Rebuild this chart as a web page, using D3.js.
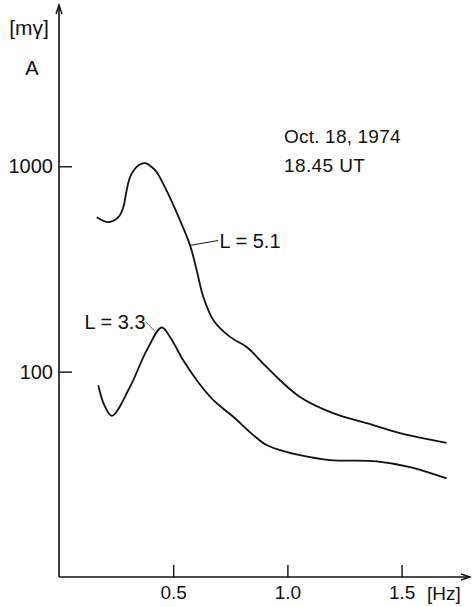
<!DOCTYPE html>
<html>
<head>
<meta charset="utf-8">
<script src="https://cdn.jsdelivr.net/npm/d3@7"></script>
<style>
  html, body { margin: 0; padding: 0; background: #fff; }
  svg { display: block; }
  text { font-family: "Liberation Sans", Arial, sans-serif; fill: #111; }
</style>
</head>
<body>
<svg id="chart" width="472" height="607"></svg>
<script>
// ---- data ----
const freqL51 = [0.165, 0.216, 0.260, 0.2815, 0.296, 0.311, 0.330, 0.347, 0.377, 0.406, 0.428, 0.477, 0.530, 0.574, 0.603, 0.632, 0.676, 0.749, 0.822, 0.894, 0.968, 1.055, 1.200, 1.347, 1.493, 1.697];
const ampL51  = [565, 535, 565, 632, 762, 885, 965, 1009, 1035, 991, 935, 738, 545, 412, 311, 231, 178, 147.6, 131.8, 109.5, 90.8, 75.3, 62.8, 56.1, 50.2, 45.0];

const freqL33 = [0.172, 0.197, 0.231, 0.311, 0.384, 0.450, 0.486, 0.544, 0.603, 0.676, 0.763, 0.851, 0.909, 0.968, 1.055, 1.187, 1.391, 1.537, 1.697];
const ampL33  = [85.9, 69.3, 60.9, 84.4, 127, 164, 147.6, 113.5, 90.8, 72.6, 60.3, 49.1, 43.9, 41.5, 39.2, 37.1, 36.6, 34.3, 30.2];

const xTickValues = [0.5, 1.0, 1.5];
const xTickLabels = ["0.5", "1.0", "1.5"];
const yTickValues = [100, 1000];
const yTickLabels = ["100", "1000"];

const seriesLabels = ["L = 5.1", "L = 3.3"];
const titleLines = ["Oct. 18, 1974", "18.45 UT"];
const yUnit = "[mγ]";
const yName = "A";
const xUnit = "[Hz]";

// ---- chart ----
const svg = d3.select("#chart");
const x = d3.scaleLinear().domain([0, 1.8]).range([59, 470.1]);
const y = d3.scaleLog().domain([10, 6100]).range([577, 5]);

const ink = "#111";
const FONT = "Liberation Sans, Arial, sans-serif";

// y axis
const yAxis = d3.axisLeft(y)
  .tickValues(yTickValues)
  .tickFormat((d, i) => yTickLabels[i])
  .tickSize(-13)
  .tickPadding(6);
const gy = svg.append("g").attr("transform", `translate(${x(0)},0)`).call(yAxis);
gy.select(".domain").remove();
gy.selectAll(".tick line").attr("stroke", ink).attr("stroke-width", 1.4);
gy.selectAll(".tick text").attr("font-size", 20).attr("font-family", FONT).attr("fill", ink);

// x axis
const xAxis = d3.axisBottom(x)
  .tickValues(xTickValues)
  .tickFormat((d, i) => xTickLabels[i])
  .tickSize(-12)
  .tickPadding(9);
const gx = svg.append("g").attr("transform", `translate(0,${y(10)})`).call(xAxis);
gx.select(".domain").remove();
gx.selectAll(".tick line").attr("stroke", ink).attr("stroke-width", 1.4);
gx.selectAll(".tick text").attr("font-size", 19).attr("font-family", FONT).attr("fill", ink);

// axis lines with arrows
const x0 = x(0), y0 = y(10), yTop = y.range()[1], xEnd = x.range()[1];
svg.append("line").attr("x1", x0).attr("y1", y0).attr("x2", x0).attr("y2", yTop)
  .attr("stroke", ink).attr("stroke-width", 1.6);
svg.append("line").attr("x1", x0).attr("y1", y0).attr("x2", xEnd).attr("y2", y0)
  .attr("stroke", ink).attr("stroke-width", 1.6);
svg.append("path").attr("d", `M${x0-3},${yTop+9} L${x0},${yTop} L${x0+3},${yTop+9}`)
  .attr("fill", "none").attr("stroke", ink).attr("stroke-width", 1.4);
svg.append("path").attr("d", `M${xEnd-9},${y0-3} L${xEnd},${y0} L${xEnd-9},${y0+3}`)
  .attr("fill", "none").attr("stroke", ink).attr("stroke-width", 1.4);

// axis labels
svg.append("text").attr("x", 29).attr("y", 35).attr("text-anchor", "middle")
  .attr("font-size", 21).text(yUnit);
svg.append("text").attr("x", 32).attr("y", 75).attr("text-anchor", "middle")
  .attr("font-size", 20).text(yName);
svg.append("text").attr("x", 427).attr("y", 600).attr("font-size", 19).text(xUnit);

// curves
const line = d3.line()
  .x(d => x(d[0]))
  .y(d => y(d[1]))
  .curve(d3.curveCatmullRom.alpha(0.5));

svg.append("path").datum(d3.zip(freqL51, ampL51))
  .attr("d", line).attr("fill", "none").attr("stroke", ink).attr("stroke-width", 1.8);
svg.append("path").datum(d3.zip(freqL33, ampL33))
  .attr("d", line).attr("fill", "none").attr("stroke", ink).attr("stroke-width", 1.8);

// series labels with leader lines
svg.append("line")
  .attr("x1", x(0.574)).attr("y1", y(412))
  .attr("x2", x(0.697)).attr("y2", y(435))
  .attr("stroke", ink).attr("stroke-width", 1);
svg.append("text").attr("x", x(0.703)).attr("y", y(435)).attr("dy", "0.35em")
  .attr("font-size", 20).text(seriesLabels[0]);

svg.append("line")
  .attr("x1", x(0.381)).attr("y1", y(174.6))
  .attr("x2", x(0.420)).attr("y2", y(157))
  .attr("stroke", "#666").attr("stroke-width", 1);
svg.append("text").attr("x", x(0.379)).attr("y", y(174.6)).attr("dy", "0.35em")
  .attr("text-anchor", "end").attr("font-size", 20).text(seriesLabels[1]);

// date/time annotation
svg.append("text").attr("x", 284).attr("y", 143).attr("font-size", 19)
  .attr("letter-spacing", 0.2).text(titleLines[0]);
svg.append("text").attr("x", 284).attr("y", 172).attr("font-size", 19)
  .attr("letter-spacing", 0.4).text(titleLines[1]);
</script>
</body>
</html>
